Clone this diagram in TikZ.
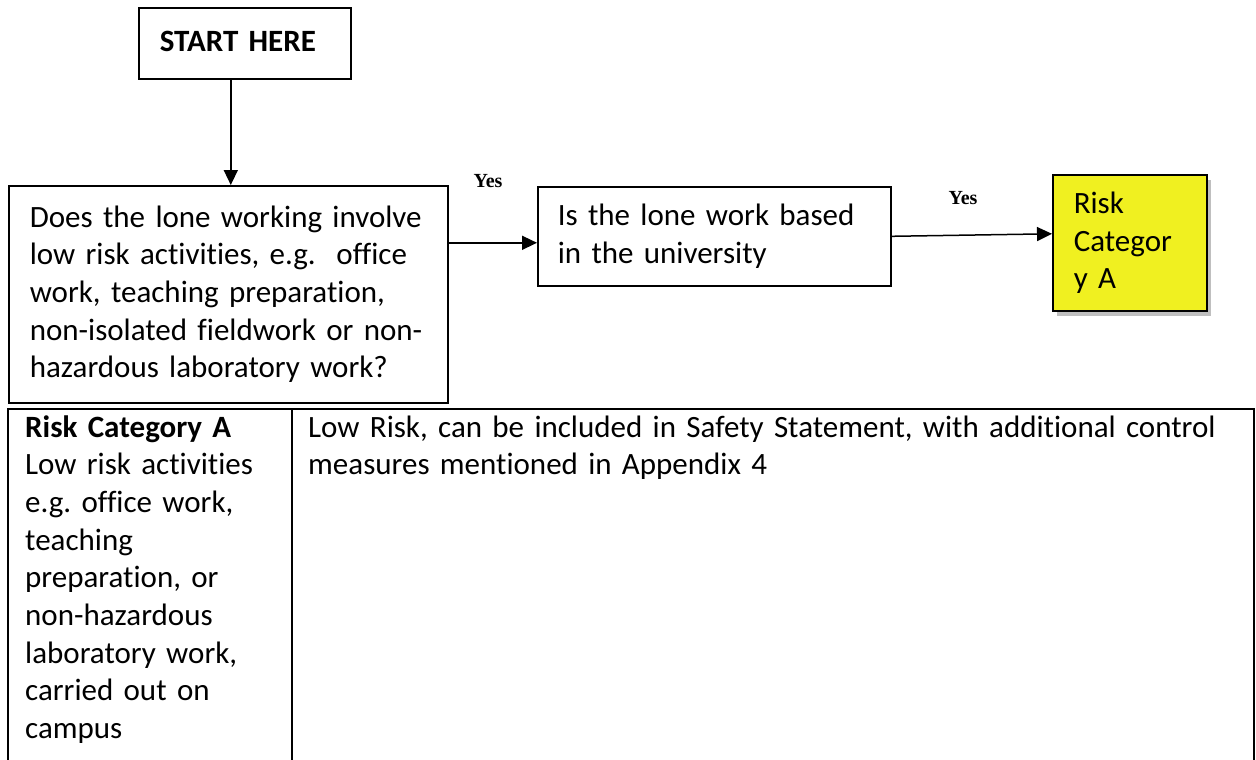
\documentclass[tikz,border=0pt]{standalone}
\usepackage{fontspec}
\setmainfont{Carlito}[Ligatures={NoCommon}]
\newfontfamily\yesfont{Liberation Serif}
\usetikzlibrary{arrows.meta,shadows,calc}
\definecolor{riskyellow}{RGB}{240,240,32}
\frenchspacing
\begin{document}
\begin{tikzpicture}[x=1pt,y=-1pt,
  every node/.style={font=\fontsize{31}{37.7}\selectfont},
  box/.style={draw, line width=1.6pt, inner sep=0pt, anchor=north west, align=left},
  conn/.style={line width=1.5pt, -{Triangle[length=15pt,width=14pt]}},
  yeslabel/.style={font=\yesfont\bfseries\fontsize{20}{24}\selectfont, inner sep=0pt},
  celltext/.style={inner sep=0pt, anchor=base west, align=left},
  tableline/.style={line width=1.6pt}]
\useasboundingbox (0,0) rectangle (1256,760);
% boxes
\node[box, minimum width=212pt, minimum height=71pt, text width=170pt, font=\fontsize{31}{37.7}\selectfont\bfseries] (start) at (138,7) {\raisebox{3pt}{START HERE}};
\node[box, minimum width=439pt, minimum height=217pt, text width=397pt] (q1) at (8,185)
  {Does the lone working involve\\low risk activities, e.g.\ \ office\\work, teaching preparation,\\non-isolated fieldwork or non-\\hazardous laboratory work?};
\node[box, minimum width=353pt, minimum height=99pt, text width=313pt] (q2) at (537,186)
  {Is the lone work based\\in the university};
\node[box, fill=riskyellow, minimum width=154pt, minimum height=136pt, text width=112pt,
  drop shadow={shadow xshift=4pt, shadow yshift=-5pt, fill=black, opacity=0.25}] (riskA) at (1052,174)
  {Risk\\Categor\\y A};
% connectors
\draw[conn] ($(q1.north |- start.south)+(2.5,0)$) -- ($(q1.north)+(2.5,0)$);
\coordinate (a1end) at ($(q2.west)+(0,6.5)$);
\draw[conn] (q1.east |- a1end) -- (a1end);
\draw[conn] (q2.east) -- ($(riskA.west)+(0,-9)$);
\node[yeslabel] (yes1) at (488,181) {Yes};
\node[yeslabel] (yes2) at (963,198) {Yes};
% table
\draw[tableline] (8,770) -- (8,409) -- (1254,409) -- (1254,770);
\draw[tableline] (292,409) -- (292,770);
\node[celltext, text width=262pt] (catA) at (25,437)
  {\textbf{Risk Category A}\\Low risk activities\\e.g. office work,\\teaching\\preparation, or\\non-hazardous\\laboratory work,\\carried out on\\campus};
\node[celltext, text width=930pt] (catAdesc) at (308,437)
  {Low Risk, can be included in Safety Statement, with additional control\\measures mentioned in Appendix 4};
\end{tikzpicture}
\end{document}
